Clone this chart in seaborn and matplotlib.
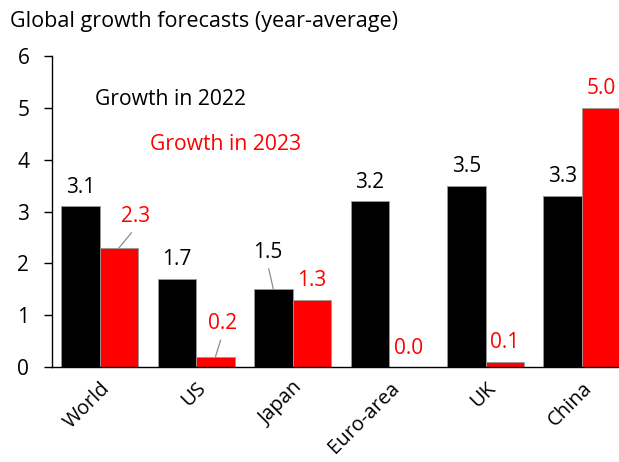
import matplotlib
matplotlib.use("Agg")
import matplotlib.pyplot as plt
import seaborn as sns
import pandas as pd

categories = ["World", "US", "Japan", "Euro-area", "UK", "China"]
growth_2022 = [3.1, 1.7, 1.5, 3.2, 3.5, 3.3]
growth_2023 = [2.3, 0.2, 1.3, 0.0, 0.1, 5.0]
series_names = ["Growth in 2022", "Growth in 2023"]
title = "Global growth forecasts (year-average)"

sns.set_theme(style="white")
plt.rcParams["font.family"] = ["Open Sans", "DejaVu Sans"]

df = pd.DataFrame({
    "cat": categories * 2,
    "val": growth_2022 + growth_2023,
    "series": [series_names[0]] * len(categories) + [series_names[1]] * len(categories),
})

W, H = 619, 462
fig = plt.figure(figsize=(W / 100, H / 100), dpi=100)
ax = fig.add_axes([51.5 / W, 95 / H, 567.5 / W, 311 / H])

colors = {series_names[0]: "#000000", series_names[1]: "#ff0000"}
sns.barplot(data=df, x="cat", y="val", hue="series", palette=colors, saturation=1,
            edgecolor="#9a9a9a", linewidth=0.6, ax=ax, legend=False, width=0.8)

FS = 15
ax.set_xlim(-0.5, 5.383)
ax.set_ylim(0, 6)
ax.set_yticks(range(0, 7))
ax.set_xlabel("")
ax.set_ylabel("")
for s in ["top", "right"]:
    ax.spines[s].set_visible(False)
ax.spines["left"].set_color("black")
ax.spines["bottom"].set_color("black")
ax.spines["left"].set_linewidth(1)
ax.spines["bottom"].set_linewidth(1)
ax.tick_params(axis="y", left=True, length=6, width=1, color="black",
               labelsize=FS, labelcolor="black", pad=10)
ax.tick_params(axis="x", bottom=False, length=0, labelsize=14.5, labelcolor="black", pad=8)
plt.setp(ax.get_xticklabels(), rotation=45, ha="right", va="top", rotation_mode="anchor")

# value labels
special = {
    (1, 0): (17, 31),   # World 2023
    (1, 1): (7, 33),    # US 2023
    (0, 2): (-6, 37),   # Japan 2022
}
bars = ax.patches
ncat = len(categories)
for si, vals in enumerate([growth_2022, growth_2023]):
    col = "black" if si == 0 else "#ff0000"
    for ci, v in enumerate(vals):
        bar = bars[si * ncat + ci]
        xc = bar.get_x() + bar.get_width() / 2
        if (si, ci) in special:
            dx, dy = special[(si, ci)]
            ax.annotate(f"{v:.1f}", xy=(xc, v), xytext=(dx, dy), textcoords="offset pixels",
                        ha="center", va="center", fontsize=FS, color=col,
                        arrowprops=dict(arrowstyle="-", color="#8c8c8c", lw=0.9,
                                        shrinkA=2, shrinkB=0, relpos=(0.5, 0)))
        else:
            ax.annotate(f"{v:.1f}", xy=(xc, v), xytext=(0, 19), textcoords="offset pixels",
                        ha="center", va="center", fontsize=FS, color=col)

ax.text(-0.047, 5.17, series_names[0], ha="left", va="center", fontsize=15.2, color="black")
ax.text(0.523, 4.29, series_names[1], ha="left", va="center", fontsize=15.2, color="#ff0000")

fig.text(10 / W, 1 - 21 / H, title, ha="left", va="center", fontsize=15.5, color="black")

fig.savefig("out.png", dpi=100)
